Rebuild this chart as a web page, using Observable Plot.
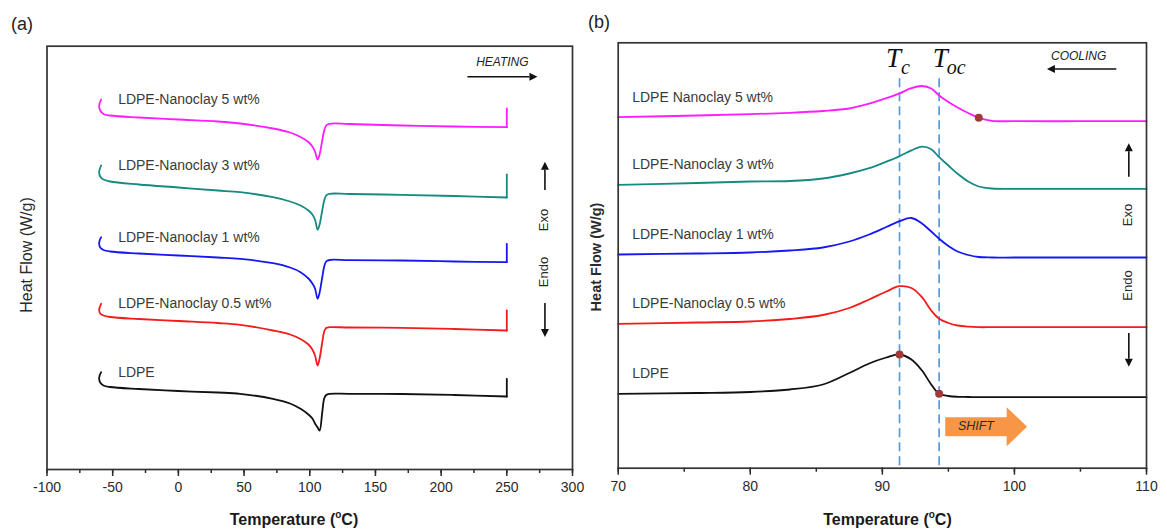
<!DOCTYPE html>
<html>
<head>
<meta charset="utf-8">
<script src="https://cdn.jsdelivr.net/npm/d3@7"></script>
<script src="https://cdn.jsdelivr.net/npm/@observablehq/plot@0.6"></script>
<style>
  html, body { margin: 0; padding: 0; background: #fff; }
  #wrap { position: relative; width: 1167px; height: 530px; overflow: hidden; }
  #wrap svg { position: absolute; top: 0; overflow: visible; }
</style>
</head>
<body>
<div id="wrap"></div>
<script>
// ---------- samples ----------
const heatLabels = ["LDPE-Nanoclay 5 wt%", "LDPE-Nanoclay 3 wt%", "LDPE-Nanoclay 1 wt%", "LDPE-Nanoclay 0.5 wt%", "LDPE"];
const coolLabels = ["LDPE Nanoclay 5 wt%", "LDPE-Nanoclay 3 wt%", "LDPE-Nanoclay 1 wt%", "LDPE-Nanoclay 0.5 wt%", "LDPE"];
const sampleColors = ["#ff1cff", "#158a80", "#1717f2", "#f21c1c", "#111111"];

// ---------- (a) heating scans: temperature (°C) and stacked heat flow (W/g) ----------
// the last two points of each scan share T = 250 °C (the end-of-run jump)
const heatTemp = [-58.8, -60.3, -59.5, -57, -52, -30, 0, 30, 47, 72, 85, 93, 99, 102, 104, 106, 107.5, 109.5, 111, 112.5, 115, 130, 170, 210, 250, 250];
const heat5  = [3.70, 3.64, 3.59, 3.555, 3.54, 3.52, 3.50, 3.48, 3.46, 3.41, 3.37, 3.325, 3.275, 3.23, 3.18, 3.10, 3.15, 3.29, 3.39, 3.44, 3.457, 3.455, 3.44, 3.43, 3.423, 3.61];
const heat3  = [3.04, 2.98, 2.93, 2.90, 2.88, 2.85, 2.82, 2.79, 2.773, 2.723, 2.68, 2.64, 2.59, 2.55, 2.50, 2.397, 2.45, 2.59, 2.69, 2.74, 2.757, 2.755, 2.747, 2.735, 2.72, 2.95];
const heat1  = [2.323, 2.27, 2.22, 2.195, 2.18, 2.16, 2.14, 2.12, 2.107, 2.063, 2.02, 1.973, 1.91, 1.86, 1.81, 1.707, 1.77, 1.92, 2.03, 2.08, 2.095, 2.093, 2.09, 2.08, 2.073, 2.257];
const heat05 = [1.657, 1.60, 1.56, 1.54, 1.525, 1.505, 1.485, 1.465, 1.447, 1.39, 1.35, 1.305, 1.25, 1.20, 1.14, 1.04, 1.11, 1.27, 1.38, 1.415, 1.423, 1.42, 1.417, 1.405, 1.39, 1.59];
const heat0  = [0.973, 0.92, 0.87, 0.84, 0.825, 0.805, 0.785, 0.77, 0.757, 0.707, 0.66, 0.607, 0.55, 0.51, 0.46, 0.42, 0.39, 0.57, 0.71, 0.745, 0.757, 0.757, 0.755, 0.745, 0.73, 0.907];
const heatSeries = [heat5, heat3, heat1, heat05, heat0];

// ---------- (b) cooling scans ----------
const coolTemp = [70, 76, 80, 83, 85.5, 87.5, 89, 90.3, 91.3, 92.2, 93.0, 93.7, 94.3, 95.0, 95.7, 96.5, 97.3, 98.3, 100, 105, 110];
const cool5  = [3.51, 3.527, 3.54, 3.554, 3.572, 3.597, 3.645, 3.7, 3.748, 3.8, 3.822, 3.797, 3.727, 3.662, 3.607, 3.552, 3.504, 3.474, 3.47, 3.47, 3.47];
const cool3  = [2.834, 2.852, 2.867, 2.872, 2.897, 2.947, 3.0, 3.065, 3.12, 3.178, 3.215, 3.19, 3.11, 3.027, 2.944, 2.867, 2.817, 2.797, 2.794, 2.794, 2.794];
const cool1  = [2.137, 2.147, 2.157, 2.177, 2.207, 2.267, 2.337, 2.412, 2.47, 2.502, 2.447, 2.367, 2.294, 2.222, 2.167, 2.132, 2.112, 2.107, 2.107, 2.107, 2.107];
const cool05 = [1.444, 1.457, 1.467, 1.492, 1.532, 1.602, 1.687, 1.767, 1.82, 1.802, 1.71, 1.577, 1.494, 1.452, 1.427, 1.415, 1.41, 1.41, 1.41, 1.41, 1.41];
const cool0  = [0.744, 0.752, 0.762, 0.787, 0.837, 0.952, 1.047, 1.107, 1.137, 1.087, 0.977, 0.837, 0.744, 0.722, 0.714, 0.712, 0.71, 0.71, 0.71, 0.71, 0.71];
const coolSeries = [cool5, cool3, cool1, cool05, cool0];

// crystallization temperature and onset of crystallization (°C)
const Tc = 91.3;
const Toc = 94.3;
// marked points on the cooling curves
const markTemp = [91.3, 94.3, 97.3];
const markFlow = [1.137, 0.744, 3.504];

// axis ticks
const heatTicks = [-100, -50, 0, 50, 100, 150, 200, 250, 300];
const heatMinorTicks = [-100, -75, -50, -25, 0, 25, 50, 75, 100, 125, 150, 175, 200, 225, 250, 275, 300];
const coolTicks = [70, 80, 90, 100, 110];
const coolMinorTicks = [70, 75, 80, 85, 90, 95, 100, 105, 110];

const FONT = "'Liberation Sans', Arial, sans-serif";
const wrap = document.getElementById("wrap");

// filled-head arrow in pixel space
function drawArrow(g, x1, y1, x2, y2) {
  const len = Math.hypot(x2 - x1, y2 - y1), ux = (x2 - x1) / len, uy = (y2 - y1) / len;
  const hl = 8, hw = 4;
  const bx = x2 - ux * hl, by = y2 - uy * hl;
  g.append("line").attr("x1", x1).attr("y1", y1).attr("x2", bx).attr("y2", by)
    .attr("stroke", "#111").attr("stroke-width", 1.6);
  g.append("path")
    .attr("d", `M${x2},${y2}L${bx - uy * hw},${by + ux * hw}L${bx + uy * hw},${by - ux * hw}Z`)
    .attr("fill", "#111");
}

function label(g, x, y, str, size, extra) {
  const t = g.append("text").attr("x", x).attr("y", y).attr("text-anchor", "start")
    .attr("font-family", FONT).attr("font-size", size).attr("fill", "#222").text(str);
  if (extra) extra(t);
  return t;
}

function tempTitle(g, cx, cy) {
  const t = g.append("text").attr("x", cx).attr("y", cy).attr("text-anchor", "middle")
    .attr("font-family", FONT).attr("font-size", 16).attr("font-weight", "bold").attr("fill", "#1a1a1a");
  t.append("tspan").text("Temperature (");
  t.append("tspan").text("o").attr("font-size", 10).attr("dy", -7);
  t.append("tspan").text("C)").attr("dy", 7);
}

function vText(g, x, y, str, size, weight) {
  g.append("text").attr("transform", `translate(${x},${y}) rotate(-90)`)
    .attr("text-anchor", "middle").attr("dominant-baseline", "middle")
    .attr("font-family", FONT).attr("font-size", size).attr("font-weight", weight || "normal")
    .attr("fill", "#2a2a2a").text(str);
}

// one scan: smooth trace plus the straight end-of-run jump
function scanMarks(temps, vals, color, jump) {
  const n = jump ? temps.length - 1 : temps.length;
  const marks = [Plot.line(temps.slice(0, n), {
    x: d => d, y: (d, i) => vals[i], stroke: color, strokeWidth: 1.8, curve: "catmull-rom"
  })];
  if (jump) {
    marks.push(Plot.line(temps.slice(n - 1), {
      x: d => d, y: (d, i) => vals[n - 1 + i], stroke: color, strokeWidth: 1.8
    }));
  }
  return marks;
}

// ================= (a) =================
const plotA = Plot.plot({
  width: 583, height: 530,
  marginLeft: 46.5, marginRight: 11, marginTop: 45.7, marginBottom: 61,
  x: {domain: [-100, 300]},
  y: {domain: [0, 4.233], axis: null},
  style: {fontFamily: FONT, fontSize: "14px", color: "#2a2a2a", background: "transparent"},
  marks: [
    Plot.axisX({ticks: heatMinorTicks, tickSize: 4, tickFormat: () => "", label: null, strokeWidth: 1.5}),
    Plot.axisX({ticks: heatTicks, tickSize: 7, tickPadding: 6, tickFormat: d => String(d), label: null, strokeWidth: 1.5}),
    ...heatSeries.flatMap((vals, k) => scanMarks(heatTemp, vals, sampleColors[k], true)),
    Plot.text(heatLabels, {
      x: () => heatTemp[0], y: (d, i) => heatSeries[i][0], text: d => d,
      textAnchor: "start", dx: 17, fontSize: 14, fill: "#3a3a3a"
    }),
    Plot.frame({stroke: "#333", strokeWidth: 1.7})
  ]
});
plotA.style.left = "0px";
wrap.appendChild(plotA);
{
  const g = d3.select(plotA).append("g");
  const sx = plotA.scale("x").apply, sy = plotA.scale("y").apply;
  label(g, 11, 30, "(a)", 18);
  tempTitle(g, 294, 525);
  vText(g, 28, 255, "Heat Flow (W/g)", 16);
  // heating direction
  g.append("text").attr("x", sx(247)).attr("y", sy(4.057)).attr("text-anchor", "middle").attr("dominant-baseline", "middle")
    .attr("font-family", FONT).attr("font-size", 12).attr("font-style", "italic").attr("fill", "#222").text("HEATING");
  drawArrow(g, sx(220.4), sy(3.923), sx(273.7), sy(3.923));
  // exo / endo
  drawArrow(g, sx(279.4), sy(2.79), sx(279.4), sy(3.073));
  vText(g, sx(279.4), sy(2.49), "Exo", 13);
  vText(g, sx(279.4), sy(1.97), "Endo", 13);
  drawArrow(g, sx(279.4), sy(1.66), sx(279.4), sy(1.32));
}

// ================= (b) =================
const plotB = Plot.plot({
  width: 584, height: 530,
  marginLeft: 34.7, marginRight: 21, marginTop: 42.3, marginBottom: 62.3,
  x: {domain: [70, 110]},
  y: {domain: [0, 4.254], axis: null},
  style: {fontFamily: FONT, fontSize: "14px", color: "#2a2a2a", background: "transparent"},
  marks: [
    Plot.axisX({ticks: coolMinorTicks, tickSize: 4, tickFormat: () => "", label: null, strokeWidth: 1.5}),
    Plot.axisX({ticks: coolTicks, tickSize: 7, tickPadding: 6, tickFormat: d => String(d), label: null, strokeWidth: 1.5}),
    Plot.ruleX([Tc, Toc], {stroke: "#5b9bd5", strokeWidth: 1.7, strokeDasharray: "9,5", insetTop: 36}),
    ...coolSeries.flatMap((vals, k) => scanMarks(coolTemp, vals, sampleColors[k], false)),
    Plot.dot(markTemp, {x: d => d, y: (d, i) => markFlow[i], r: 4, fill: "#a23838", stroke: "none"}),
    Plot.text(coolLabels, {
      x: () => coolTemp[0], y: (d, i) => coolSeries[i][0], text: d => d,
      textAnchor: "start", dx: 14, dy: -20, fontSize: 14, fill: "#3a3a3a"
    }),
    Plot.frame({stroke: "#333", strokeWidth: 1.7})
  ]
});
plotB.style.left = "583px";
wrap.appendChild(plotB);
{
  const g = d3.select(plotB).append("g");
  const sx = plotB.scale("x").apply, sy = plotB.scale("y").apply;
  label(g, 5, 28, "(b)", 18);
  tempTitle(g, 887.5 - 583, 525);
  vText(g, 14, 257, "Heat Flow (W/g)", 14.5, "bold");

  // Tc and Toc labels
  const serif = "'Liberation Serif', 'DejaVu Serif', serif";
  const big = t => t.attr("font-family", serif).attr("font-style", "italic").attr("font-size", 27).attr("fill", "#111");
  const sub = t => t.attr("font-family", serif).attr("font-style", "italic").attr("font-size", 20).attr("fill", "#111");
  label(g, sx(Tc) - 13, 67, "T", 27, big);
  label(g, sx(Tc) + 2, 74, "c", 20, sub);
  label(g, sx(Toc) - 6, 67, "T", 27, big);
  label(g, sx(Toc) + 8, 74, "oc", 20, sub);

  // cooling direction
  g.append("text").attr("x", sx(104.9)).attr("y", sy(4.11)).attr("text-anchor", "middle").attr("dominant-baseline", "middle")
    .attr("font-family", FONT).attr("font-size", 12).attr("font-style", "italic").attr("fill", "#222").text("COOLING");
  drawArrow(g, sx(107.75), sy(3.987), sx(102.5), sy(3.987));
  // exo / endo
  drawArrow(g, sx(108.7), sy(2.91), sx(108.7), sy(3.244));
  vText(g, sx(108.7), sy(2.527), "Exo", 13);
  vText(g, sx(108.7), sy(1.822), "Endo", 13);
  drawArrow(g, sx(108.7), sy(1.347), sx(108.7), sy(1.01));

  // shift of the crystallization onset
  const x0 = sx(94.8), xb = sx(99.45), xt = sx(101.0), yc = sy(0.41);
  g.append("path")
    .attr("d", `M${x0},${yc - 9.5}L${xb},${yc - 9.5}L${xb},${yc - 19.5}L${xt},${yc}L${xb},${yc + 19.5}L${xb},${yc + 9.5}L${x0},${yc + 9.5}Z`)
    .attr("fill", "#f79646");
  g.append("text").attr("x", (x0 + xb) / 2).attr("y", yc).attr("text-anchor", "middle").attr("dominant-baseline", "middle")
    .attr("font-family", FONT).attr("font-size", 12.5).attr("font-style", "italic").attr("fill", "#2a2a2a").text("SHIFT");
}
</script>
</body>
</html>
